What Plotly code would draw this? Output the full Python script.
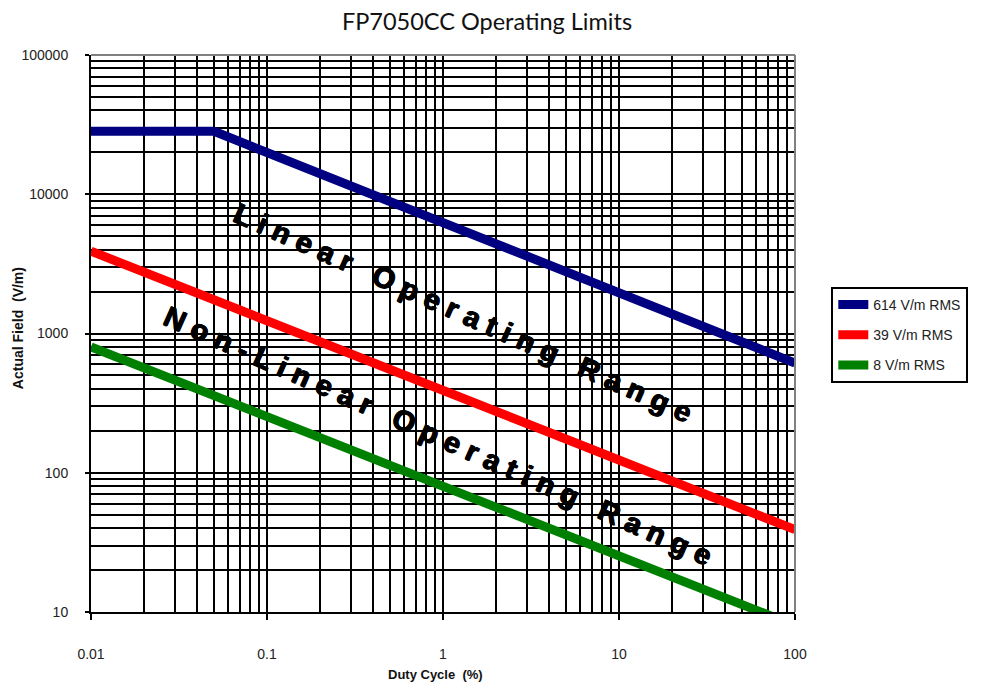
import plotly.graph_objects as go

# ---- data ----
duty_614 = [0.01, 0.05, 100]
field_614 = [28300, 28300, 614]
duty_39 = [0.01, 100]
field_39 = [3900, 39]
duty_8 = [0.01, 100]
field_8 = [800, 8]

series_names = ["614 V/m RMS", "39 V/m RMS", "8 V/m RMS"]
series_colors = ["#000080", "#FF0000", "#008000"]

x_ticks = [0.01, 0.1, 1, 10, 100]
x_ticktext = ["0.01", "0.1", "1", "10", "100"]
y_ticks = [10, 100, 1000, 10000, 100000]
y_ticktext = ["10", "100", "1000", "10000", "100000"]

x_minor = [m * d for d in [0.01, 0.1, 1, 10] for m in range(2, 10)]
y_minor = [m * d for d in [10, 100, 1000, 10000] for m in range(2, 10)]

fig = go.Figure()
for i, (xs, ys) in enumerate([(duty_614, field_614), (duty_39, field_39), (duty_8, field_8)]):
    fig.add_trace(go.Scatter(
        x=xs, y=ys, mode="lines", name=series_names[i],
        legendgroup=f"g{i}",
        line=dict(color=series_colors[i], width=9),
    ))

# page body has an 8px margin: the figure starts at (8, 8) in the window
OFF = 8
W, H = 987 - OFF, 683 - OFF
PX0, PX1, PY0, PY1 = 90.7, 794.7, 55, 612.3   # plot area in window pixels
PW, PH = PX1 - PX0, PY1 - PY0
L, R, T, B = PX0 - OFF, 987 - PX1, PY0 - OFF, 683 - PY1


def px(xw):
    return (xw - PX0) / PW


def py(yw):
    return (PY1 - yw) / PH


tickfont = dict(family="Liberation Sans, Arial, sans-serif", size=14, color="#222222")

fig.update_layout(
    width=W, height=H,
    margin=dict(l=L, r=R, t=T, b=B, autoexpand=False),
    paper_bgcolor="white", plot_bgcolor="white",
    title=dict(text="FP7050CC Operating Limits", x=(487 - OFF) / W, xanchor="center",
               y=1 - (22 - OFF) / H, yanchor="middle",
               font=dict(family="Lato, Open Sans, sans-serif", size=23.5, color="#111111")),
    showlegend=True,
    legend=dict(x=px(831), y=py(287), xanchor="left", yanchor="top",
                bordercolor="black", borderwidth=2, bgcolor="white",
                tracegroupgap=9,
                font=dict(family="Liberation Sans, Arial, sans-serif", size=14, color="#222222")),
)

fig.update_xaxes(
    type="log", range=[-2, 2],
    tickvals=x_ticks, ticktext=x_ticktext, tickfont=tickfont,
    ticks="outside", ticklen=6, tickwidth=2, tickcolor="black",
    ticklabelstandoff=22,
    showline=True, linecolor="black", linewidth=2,
    showgrid=True, gridcolor="black", gridwidth=2,
    minor=dict(tickvals=x_minor, showgrid=True, gridcolor="black", gridwidth=2, ticks=""),
    zeroline=False,
)
fig.update_yaxes(
    type="log", range=[1, 5],
    tickvals=y_ticks, ticktext=y_ticktext, tickfont=tickfont,
    ticks="outside", ticklen=4, tickwidth=2, tickcolor="black",
    ticklabelstandoff=14,
    showline=True, linecolor="black", linewidth=2,
    showgrid=True, gridcolor="black", gridwidth=2,
    minor=dict(tickvals=y_minor, showgrid=True, gridcolor="black", gridwidth=2, ticks=""),
    zeroline=False,
)

# gray frame on top and right
fig.add_shape(type="line", xref="paper", yref="paper", x0=0, x1=1, y0=1, y1=1,
              line=dict(color="#808080", width=2), layer="above")
fig.add_shape(type="line", xref="paper", yref="paper", x0=1, x1=1, y0=0, y1=1,
              line=dict(color="#808080", width=2), layer="above")

# axis titles
fig.add_annotation(text="<b>Duty Cycle  (%)</b>", xref="paper", yref="paper",
                   x=px(435), y=py(675), showarrow=False,
                   xanchor="center", yanchor="middle",
                   font=dict(family="Liberation Sans, Arial, sans-serif", size=13, color="#111111"))
fig.add_annotation(text="<b>Actual Field  (V/m)</b>", xref="paper", yref="paper",
                   x=px(18), y=py(328), showarrow=False, textangle=-90,
                   xanchor="center", yanchor="middle",
                   font=dict(family="Liberation Sans, Arial, sans-serif", size=14, color="#111111"))


# region labels
def spaced(s):
    nb = "\u00a0"
    return nb.join(s).replace(nb + nb + nb, nb * 4)


region_font = dict(family="Liberation Sans, Arial, sans-serif", size=29, color="black",
                   shadow="0.7px 0px 0px black, -0.7px 0px 0px black, 0px 0.7px 0px black")
fig.add_annotation(text="<b>" + spaced("Linear Operating Range") + "</b>", xref="paper", yref="paper",
                   x=px(463), y=py(313), showarrow=False, textangle=24,
                   xanchor="center", yanchor="middle", font=region_font)
fig.add_annotation(text="<b>" + spaced("Non-Linear Operating Range") + "</b>", xref="paper", yref="paper",
                   x=px(438), y=py(436), showarrow=False, textangle=24,
                   xanchor="center", yanchor="middle", font=region_font)

fig.write_html("out.html")
